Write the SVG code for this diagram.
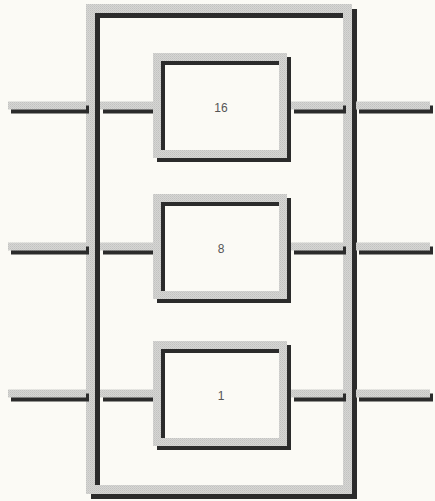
<svg xmlns="http://www.w3.org/2000/svg" width="435" height="501" viewBox="0 0 435 501">
  <defs>
    <pattern id="stip" width="2" height="2" patternUnits="userSpaceOnUse">
      <rect width="2" height="2" fill="#d6d6d4"/>
      <rect width="1" height="1" fill="#c2c2c0"/>
      <rect x="1" y="1" width="1" height="1" fill="#cacac8"/>
    </pattern>
  </defs>
  <style>
    .sh { fill: none; stroke: #2b2b2b; }
    .gr { fill: none; stroke: url(#stip); }
    .fr { stroke-width: 9; }
    .bx { stroke-width: 8; }
    .ln { stroke-width: 8; }
    .lbl { font-family: "Liberation Sans", Arial, sans-serif; font-size: 12px; fill: #555; text-anchor: middle; }
  </style>
  <rect width="435" height="501" fill="#fbfaf5"/>

  <g id="frame">
    <rect class="sh fr" x="95.5" y="13.5" width="257" height="481"/>
    <rect class="gr fr" x="90.5" y="8.5" width="257" height="481"/>
  </g>

  <g id="connectors">
    <g transform="translate(3,4)" class="sh ln">
      <path d="M8 105.5H86M100 105.5H155M291 105.5H343M356 105.5H430"/>
      <path d="M8 246.5H86M100 246.5H155M291 246.5H343M356 246.5H430"/>
      <path d="M8 393.5H86M100 393.5H155M291 393.5H343M356 393.5H430"/>
    </g>
    <g class="gr ln">
      <path d="M8 105.5H86M100 105.5H155M291 105.5H343M356 105.5H430"/>
      <path d="M8 246.5H86M100 246.5H155M291 246.5H343M356 246.5H430"/>
      <path d="M8 393.5H86M100 393.5H155M291 393.5H343M356 393.5H430"/>
    </g>
  </g>

  <g id="box16">
    <rect class="sh bx" x="161" y="61" width="126" height="97"/>
    <rect class="gr bx" x="157" y="57" width="126" height="97"/>
    <text class="lbl" x="221" y="112">16</text>
  </g>

  <g id="box8">
    <rect class="sh bx" x="161" y="202" width="126" height="97"/>
    <rect class="gr bx" x="157" y="198" width="126" height="97"/>
    <text class="lbl" x="221" y="253">8</text>
  </g>

  <g id="box1">
    <rect class="sh bx" x="161" y="349" width="126" height="97"/>
    <rect class="gr bx" x="157" y="345" width="126" height="97"/>
    <text class="lbl" x="221" y="400">1</text>
  </g>
</svg>
